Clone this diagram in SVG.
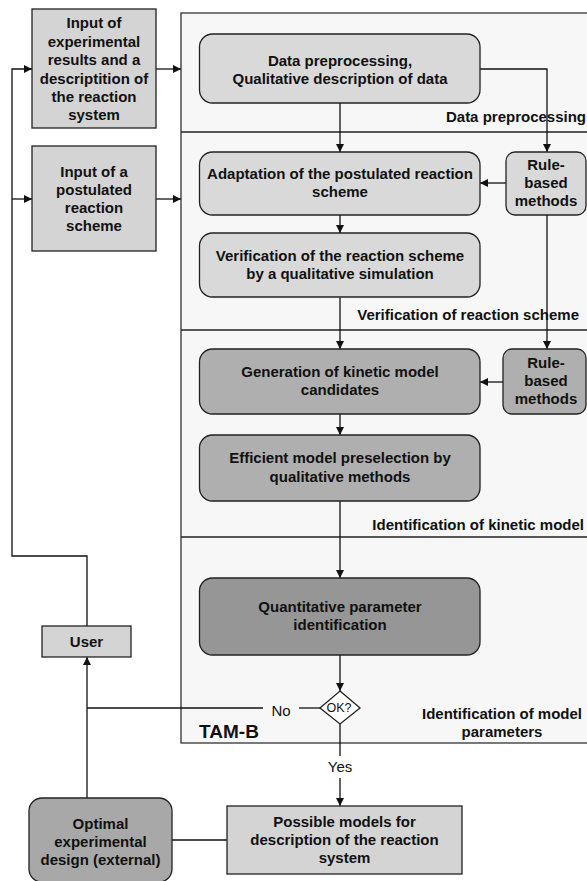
<svg xmlns="http://www.w3.org/2000/svg" width="587" height="881" viewBox="0 0 587 881">
<defs>
<marker id="ah" viewBox="0 0 10 10" refX="10" refY="5" markerWidth="9" markerHeight="8" markerUnits="userSpaceOnUse" orient="auto"><path d="M0,0 L10,5 L0,10 z" fill="#111"/></marker>
<style>
.t{font-family:"Liberation Sans",Arial,sans-serif;font-size:15px;font-weight:bold;fill:#111;text-anchor:middle}
.n{font-family:"Liberation Sans",Arial,sans-serif;font-size:15px;fill:#111;text-anchor:middle}
.lbl{font-family:"Liberation Sans",Arial,sans-serif;font-size:15px;font-weight:bold;fill:#111;text-anchor:end}
.box{stroke:#222;stroke-width:1.3}
.c{fill:none;stroke:#111;stroke-width:1.3}
.ca{fill:none;stroke:#111;stroke-width:1.3;marker-end:url(#ah)}
.div{stroke:#222;stroke-width:1.3}
</style>
</defs>
<rect width="587" height="881" fill="#fff"/>
<g id="panel">
<rect x="181" y="13" width="410" height="730" fill="#f7f7f7" stroke="#333" stroke-width="1.3"/>
<line class="div" x1="181" y1="132" x2="587" y2="132"/>
<line class="div" x1="181" y1="330" x2="587" y2="330"/>
<line class="div" x1="181" y1="537" x2="587" y2="537"/>
<text class="lbl" x="586" y="122">Data preprocessing</text>
<text class="lbl" x="579" y="320">Verification of reaction scheme</text>
<text class="lbl" x="584" y="530">Identification of kinetic model</text>
<text class="t" x="502" y="719">Identification of model</text>
<text class="t" x="502" y="737">parameters</text>
<text class="t" x="229" y="738" style="font-size:19px">TAM-B</text>
</g>
<g id="connectors">
<path class="ca" d="M87,626 V556 H12 V69 H32"/>
<path class="ca" d="M12,199 H32"/>
<path class="ca" d="M156,69 H181"/>
<path class="ca" d="M156,199 H181"/>
<path class="ca" d="M340,103 V152"/>
<path class="ca" d="M480,69 H547 V152"/>
<path class="ca" d="M506,183 H480"/>
<path class="ca" d="M340,215 V233"/>
<path class="ca" d="M547,215 V349"/>
<path class="ca" d="M340,297 V349"/>
<path class="ca" d="M503,382 H480"/>
<path class="ca" d="M340,414 V435"/>
<path class="ca" d="M340,501 V578"/>
<path class="ca" d="M340,655 V691"/>
<path class="c" d="M320,708 H299"/>
<text class="n" x="281" y="716">No</text>
<path class="c" d="M263,708 H87"/>
<path class="ca" d="M87,798 V657"/>
<path class="c" d="M340,724 V756"/>
<text class="n" x="340" y="772">Yes</text>
<path class="ca" d="M340,778 V806"/>
<path class="c" d="M172,840 H227"/>
</g>
<g id="input-experimental">
<rect class="box" x="32" y="9" width="124" height="119" fill="#d4d4d4"/>
<text class="t" x="94" y="28">Input of</text>
<text class="t" x="94" y="46.5">experimental</text>
<text class="t" x="94" y="65">results and a</text>
<text class="t" x="94" y="83.5">descriptition of</text>
<text class="t" x="94" y="102">the reaction</text>
<text class="t" x="94" y="120">system</text>
</g>
<g id="input-scheme">
<rect class="box" x="32" y="146" width="124" height="105" fill="#d4d4d4"/>
<text class="t" x="94" y="177">Input of a</text>
<text class="t" x="94" y="195">postulated</text>
<text class="t" x="94" y="213">reaction</text>
<text class="t" x="94" y="231">scheme</text>
</g>
<g id="data-preprocessing">
<rect class="box" x="199.5" y="34" width="280.5" height="69" rx="13" fill="#d9d9d9"/>
<text class="t" x="340" y="65.5">Data preprocessing,</text>
<text class="t" x="340" y="83.5">Qualitative description of data</text>
</g>
<g id="adaptation">
<rect class="box" x="199.5" y="152" width="280.5" height="63" rx="13" fill="#d9d9d9"/>
<text class="t" x="340" y="179">Adaptation of the postulated reaction</text>
<text class="t" x="340" y="197">scheme</text>
</g>
<g id="verification">
<rect class="box" x="199.5" y="233" width="280.5" height="64" rx="13" fill="#d9d9d9"/>
<text class="t" x="340" y="260.5">Verification of the reaction scheme</text>
<text class="t" x="340" y="278.5">by a qualitative simulation</text>
</g>
<g id="rule-based-1">
<rect class="box" x="506" y="152" width="80" height="63" rx="9" fill="#d9d9d9"/>
<text class="t" x="546" y="170">Rule-</text>
<text class="t" x="546" y="188">based</text>
<text class="t" x="546" y="206">methods</text>
</g>
<g id="generation">
<rect class="box" x="199.5" y="349" width="280.5" height="65" rx="13" fill="#afafaf"/>
<text class="t" x="340" y="377">Generation of kinetic model</text>
<text class="t" x="340" y="395">candidates</text>
</g>
<g id="rule-based-2">
<rect class="box" x="503" y="349" width="83" height="65" rx="9" fill="#afafaf"/>
<text class="t" x="546" y="368">Rule-</text>
<text class="t" x="546" y="386">based</text>
<text class="t" x="546" y="404">methods</text>
</g>
<g id="preselection">
<rect class="box" x="199.5" y="435" width="280.5" height="66" rx="13" fill="#afafaf"/>
<text class="t" x="340" y="463">Efficient model preselection by</text>
<text class="t" x="340" y="482">qualitative methods</text>
</g>
<g id="quantitative">
<rect class="box" x="199.5" y="578" width="280.5" height="77" rx="13" fill="#969696"/>
<text class="t" x="340" y="612">Quantitative parameter</text>
<text class="t" x="340" y="630">identification</text>
</g>
<g id="ok-decision">
<polygon class="box" points="340,691 360,708 340,724 320,708" fill="#fff"/>
<text class="n" x="339" y="712" style="font-size:12.5px">OK?</text>
</g>
<g id="user">
<rect class="box" x="42" y="626" width="89" height="31" fill="#d4d4d4"/>
<text class="t" x="86.5" y="647">User</text>
</g>
<g id="optimal-design">
<rect class="box" x="29" y="798" width="143" height="84" rx="13" fill="#a8a8a8"/>
<text class="t" x="100.5" y="829">Optimal</text>
<text class="t" x="100.5" y="847">experimental</text>
<text class="t" x="100.5" y="865">design (external)</text>
</g>
<g id="possible-models">
<rect class="box" x="227" y="806" width="235" height="68" fill="#d4d4d4"/>
<text class="t" x="344.5" y="827">Possible models for</text>
<text class="t" x="344.5" y="845">description of the reaction</text>
<text class="t" x="344.5" y="863">system</text>
</g>
</svg>
